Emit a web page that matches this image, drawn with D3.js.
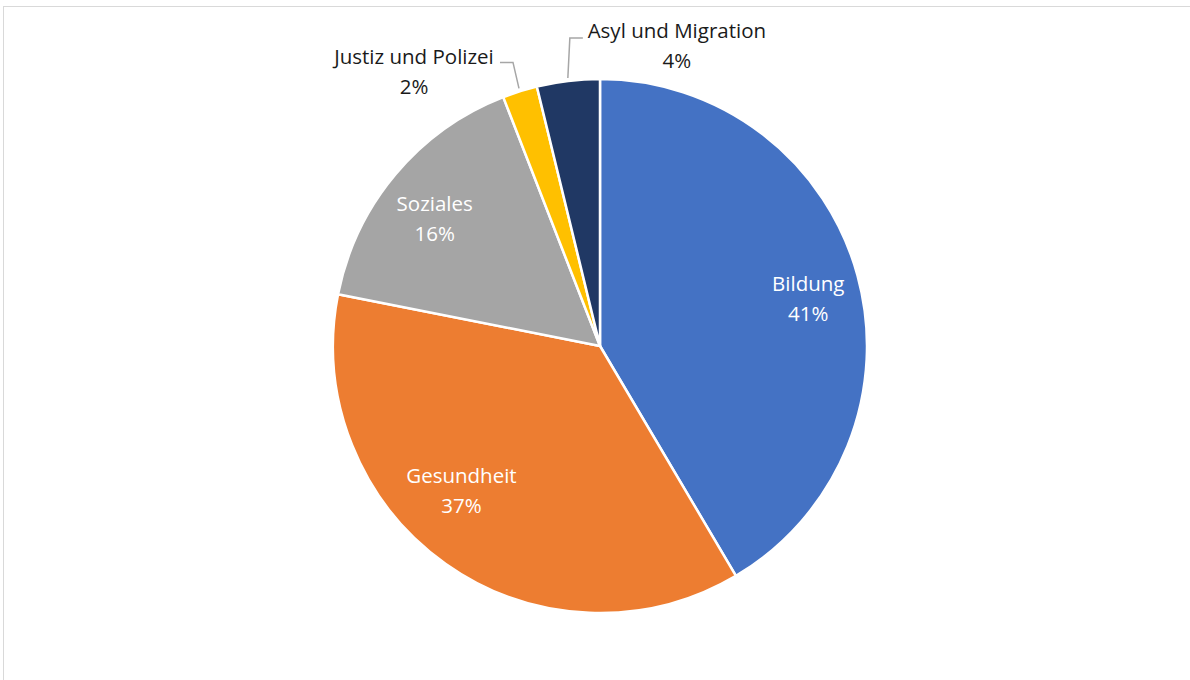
<!DOCTYPE html>
<html>
<head>
<meta charset="utf-8">
<script src="https://cdn.jsdelivr.net/npm/d3@7/dist/d3.min.js"></script>
<style>
  html, body { margin: 0; padding: 0; background: #fff; }
  svg { display: block; }
  text { font-family: "Open Sans", Lato, "Liberation Sans", sans-serif; }
</style>
</head>
<body>
<svg id="chart" width="1190" height="680"></svg>
<script>
// Budget shares by area (percent)
const categories = ["Bildung", "Gesundheit", "Soziales", "Justiz und Polizei", "Asyl und Migration"];
const shares = [41.5, 36.6, 16.0, 2.1, 3.8];
const labels = ["41%", "37%", "16%", "2%", "4%"];
const colors = ["#4472C4", "#ED7D31", "#A5A5A5", "#FFC000", "#203864"];

const width = 1190, height = 680;
const cx = 600, cy = 346, radius = 267;

const svg = d3.select("#chart");

// chart frame
svg.append("rect")
  .attr("x", 3.5).attr("y", 6.5)
  .attr("width", width + 10).attr("height", height + 10)
  .attr("fill", "#fff")
  .attr("stroke", "#D9D9D9")
  .attr("stroke-width", 1);

const data = categories.map((c, i) => ({ name: c, value: shares[i], label: labels[i], color: colors[i] }));

const pie = d3.pie().value(d => d.value).sort(null);
const arcs = pie(data);
const arc = d3.arc().innerRadius(0).outerRadius(radius);

const g = svg.append("g").attr("transform", `translate(${cx},${cy})`);

g.selectAll("path.slice")
  .data(arcs)
  .join("path")
  .attr("class", "slice")
  .attr("d", arc)
  .attr("fill", d => d.data.color)
  .attr("stroke", "#fff")
  .attr("stroke-width", 2.5)
  .attr("stroke-linejoin", "round");

// label placement: inside labels sit near 0.78r, with angular nudges (degrees)
const inside = { "Bildung": { r: 0.80, da: 2.5 }, "Gesundheit": { r: 0.75, da: 8.5 }, "Soziales": { r: 0.78, da: -2.5 } };
// outside labels: offsets from the slice's outer-edge midpoint
const outside = {
  "Justiz und Polizei": { dx: -105, dy: -16, elbow: [-6, -26], end: [-19, -26] },
  "Asyl und Migration": { dx: 109, dy: -32, elbow: [2, -40], end: [15, -40] }
};

const fontSize = 20.5, lineH = 30;

arcs.forEach(a => {
  const name = a.data.name;
  const mid = (a.startAngle + a.endAngle) / 2;
  if (inside[name]) {
    const p = inside[name];
    const ang = mid + p.da * Math.PI / 180;
    const x = Math.sin(ang) * radius * p.r;
    const y = -Math.cos(ang) * radius * p.r;
    const t = g.append("text")
      .attr("text-anchor", "middle")
      .attr("fill", "#fff")
      .attr("font-size", fontSize);
    t.append("tspan").attr("x", x).attr("y", y - lineH / 2 + 7).text(name);
    t.append("tspan").attr("x", x).attr("y", y + lineH / 2 + 7).text(a.data.label);
  } else {
    const p = outside[name];
    const ex = Math.sin(mid) * (radius + 3);
    const ey = -Math.cos(mid) * (radius + 3);
    g.append("polyline")
      .attr("points", [[ex, ey], [ex + p.elbow[0], ey + p.elbow[1]], [ex + p.end[0], ey + p.end[1]]].map(q => q.join(",")).join(" "))
      .attr("fill", "none")
      .attr("stroke", "#A6A6A6")
      .attr("stroke-width", 1.5);
    const x = ex + p.dx, y = ey + p.dy;
    const t = g.append("text")
      .attr("text-anchor", "middle")
      .attr("fill", "#1a1a1a")
      .attr("font-size", fontSize);
    t.append("tspan").attr("x", x).attr("y", y - lineH / 2 + 7).text(name);
    t.append("tspan").attr("x", x).attr("y", y + lineH / 2 + 7).text(a.data.label);
  }
});
</script>
</body>
</html>
